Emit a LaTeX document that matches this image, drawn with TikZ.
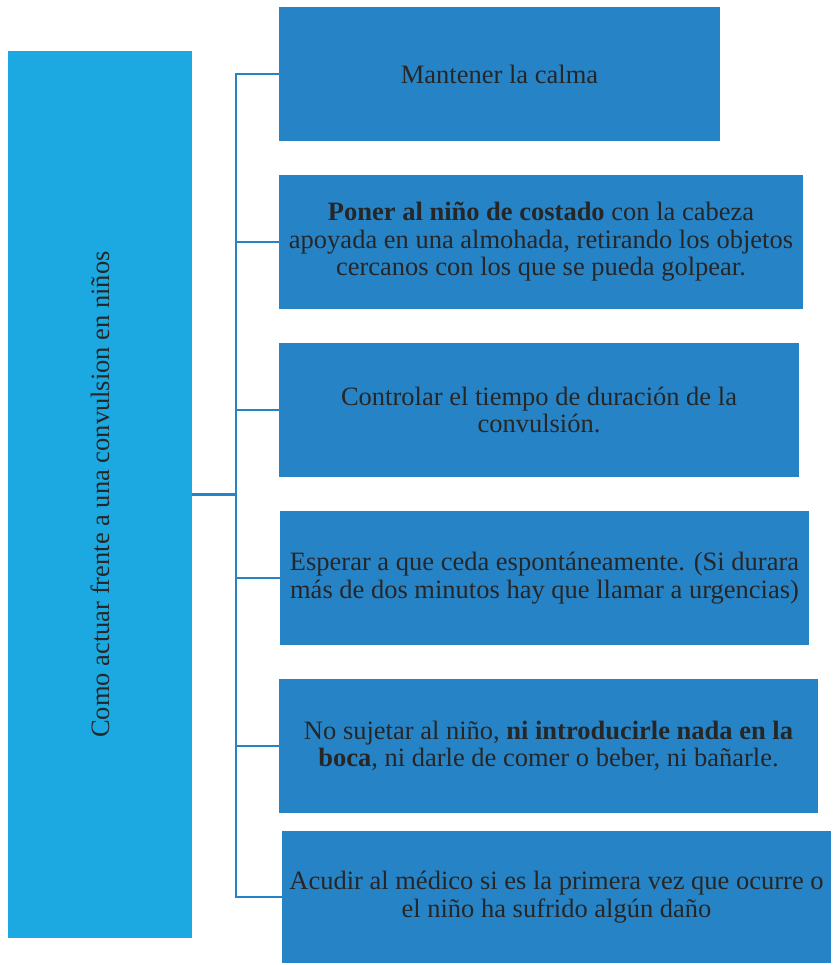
\documentclass[tikz,border=0pt]{standalone}
\usepackage{fontspec}
\setmainfont{Liberation Serif}
\definecolor{azulclaro}{HTML}{1CA9E1}
\definecolor{azulpaso}{HTML}{2683C6}
\definecolor{textogris}{HTML}{262626}
\tikzset{
    temabox/.style={fill=azulclaro, text=textogris, inner sep=0pt},
    pasobox/.style={fill=azulpaso, text=textogris, align=center, inner sep=0pt,
        font=\fontsize{26.5}{27.5}\selectfont},
    conector/.style={draw=azulpaso, line width=2.6pt}
}
\begin{document}
\begin{tikzpicture}[x=1pt,y=-1pt]
    \useasboundingbox (0,0) rectangle (832,965);
    % tema
    \node[temabox, minimum width=184, minimum height=887] (tema) at (100,494.5) {};
    \node[rotate=90, text=textogris, font=\fontsize{26.5}{27.5}\selectfont] (titulo) at (tema.center) {Como actuar frente a una convulsion en niños};
    % pasos
    \node[pasobox, minimum width=441, minimum height=134] (p1) at (499.5,74) {Mantener la calma};
    \node[pasobox, minimum width=524, minimum height=134] (p2) at (541,242) {\textbf{Poner al niño de costado} con la cabeza\\apoyada en una almohada, retirando los objetos\\cercanos con los que se pueda golpear.};
    \node[pasobox, minimum width=520, minimum height=134] (p3) at (539,410) {Controlar el tiempo de duración de la\\convulsión.};
    \node[pasobox, minimum width=529, minimum height=134] (p4) at (544.5,578) {Esperar a que ceda espontáneamente. (Si durara\\más de dos minutos hay que llamar a urgencias)};
    \node[pasobox, minimum width=539, minimum height=134] (p5) at (548.5,746) {No sujetar al niño, \textbf{ni introducirle nada en la}\\\textbf{boca}, ni darle de comer o beber, ni bañarle.};
    \node[pasobox, minimum width=549, minimum height=132] (p6) at (556.5,897) {Acudir al médico si es la primera vez que ocurre o\\el niño ha sufrido algún daño};
    % conectores
    \coordinate (tronco) at (236,494.5);
    \draw[conector] (tema.east) -- (tronco);
    \foreach \n in {p1,p2,p3,p4,p5,p6}
        \draw[conector] (tronco) |- (\n.west);
\end{tikzpicture}
\end{document}
